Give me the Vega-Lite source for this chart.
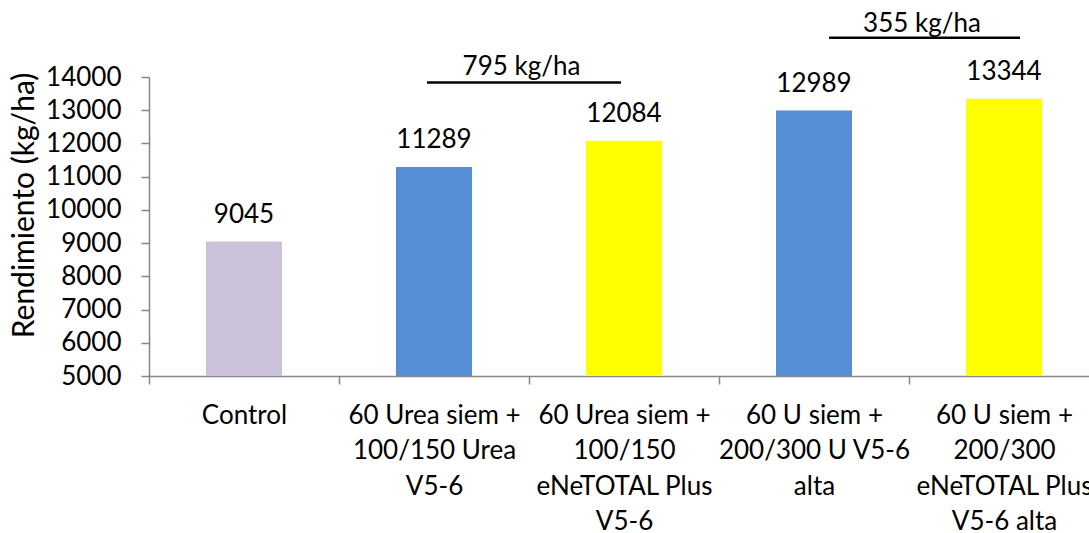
{
  "$schema": "https://vega.github.io/schema/vega-lite/v6.json",
  "width": 940,
  "height": 299,
  "autosize": {"type": "none"},
  "padding": {"left": 149, "top": 77, "right": 0, "bottom": 157},
  "background": "white",
  "config": {
    "view": {"stroke": null},
    "font": "Lato",
    "text": {"font": "Lato", "fontSize": 26, "color": "#000000"},
    "axis": {
      "labelFont": "Lato",
      "labelFontSize": 26,
      "labelColor": "#000000",
      "titleFont": "Lato",
      "titleFontSize": 26,
      "titleFontWeight": "normal",
      "titleColor": "#000000",
      "labelOverlap": false,
      "labelBound": false,
      "labelFlush": false,
      "tickSize": 8,
      "tickColor": "#868686",
      "tickWidth": 1.5,
      "domainColor": "#868686",
      "domainWidth": 1.5,
      "grid": false
    },
    "axisX": {
      "labelAngle": 0,
      "labelLineHeight": 35.5,
      "labelBaseline": "top",
      "labelPadding": 18,
      "labelLimit": 0,
      "tickBand": "extent"
    },
    "axisY": {
      "labelPadding": 20,
      "labelBaseline": "middle",
      "titleFontSize": 30,
      "titleX": -125,
      "titleY": 128,
      "titleAngle": -90,
      "titleAlign": "center",
      "titleBaseline": "middle"
    }
  },
  "datasets": {
    "barras": [
      {"tratamiento": "Control", "tipo": "Control", "rendimiento": 9045, "base": 5000},
      {"tratamiento": "60 Urea siem +\n100/150 Urea\nV5-6", "tipo": "Urea", "rendimiento": 11289, "base": 5000},
      {"tratamiento": "60 Urea siem +\n100/150\neNeTOTAL Plus\nV5-6", "tipo": "eNeTOTAL", "rendimiento": 12084, "base": 5000},
      {"tratamiento": "60 U siem +\n200/300 U V5-6\nalta", "tipo": "Urea", "rendimiento": 12989, "base": 5000},
      {"tratamiento": "60 U siem +\n200/300\neNeTOTAL Plus\nV5-6 alta", "tipo": "eNeTOTAL", "rendimiento": 13344, "base": 5000}
    ],
    "dif1": [
      {"desde": "60 Urea siem +\n100/150 Urea\nV5-6", "hasta": "60 Urea siem +\n100/150\neNeTOTAL Plus\nV5-6", "y": 13834, "etiqueta": "795 kg/ha"}
    ],
    "dif2": [
      {"desde": "60 U siem +\n200/300 U V5-6\nalta", "hasta": "60 U siem +\n200/300\neNeTOTAL Plus\nV5-6 alta", "y": 15184, "etiqueta": "355 kg/ha"}
    ]
  },
  "encoding": {
    "x": {
      "field": "tratamiento", "type": "nominal", "sort": null,
      "scale": {"range": [0, 950], "paddingInner": 0, "paddingOuter": 0},
      "axis": {"title": null, "labelExpr": "split(datum.label, '\\n')"}
    },
    "y": {
      "field": "rendimiento", "type": "quantitative",
      "scale": {"domain": [5000, 14000], "nice": false, "zero": false},
      "axis": {
        "values": [5000, 6000, 7000, 8000, 9000, 10000, 11000, 12000, 13000, 14000],
        "format": "d",
        "title": "Rendimiento (kg/ha)"
      }
    }
  },
  "layer": [
    {
      "data": {"name": "barras"},
      "mark": {"type": "bar", "size": 76},
      "encoding": {
        "y2": {"field": "base"},
        "color": {
          "field": "tipo", "type": "nominal",
          "scale": {"domain": ["Control", "Urea", "eNeTOTAL"], "range": ["#CCC1DA", "#558ED5", "#FFFF00"]},
          "legend": null
        }
      }
    },
    {
      "data": {"name": "barras"},
      "mark": {"type": "text", "baseline": "alphabetic", "align": "center", "dy": -19, "fontSize": 26, "color": "#000000"},
      "encoding": {
        "text": {"field": "rendimiento", "type": "quantitative", "format": "d"}
      }
    },
    {
      "data": {"name": "dif1"},
      "mark": {"type": "rule", "color": "#000000", "strokeWidth": 2.5, "xOffset": -7, "x2Offset": -3},
      "encoding": {
        "x": {"field": "desde", "type": "nominal", "sort": null},
        "x2": {"field": "hasta"},
        "y": {"field": "y", "type": "quantitative"}
      }
    },
    {
      "data": {"name": "dif1"},
      "mark": {"type": "text", "baseline": "alphabetic", "align": "center", "dy": -7.5, "xOffset": 87.5, "fontSize": 26, "color": "#000000"},
      "encoding": {
        "x": {"field": "desde", "type": "nominal", "sort": null},
        "y": {"field": "y", "type": "quantitative"},
        "text": {"field": "etiqueta", "type": "nominal"}
      }
    },
    {
      "data": {"name": "dif2"},
      "mark": {"type": "rule", "color": "#000000", "strokeWidth": 2.5, "xOffset": 15, "x2Offset": 16},
      "encoding": {
        "x": {"field": "desde", "type": "nominal", "sort": null},
        "x2": {"field": "hasta"},
        "y": {"field": "y", "type": "quantitative"}
      }
    },
    {
      "data": {"name": "dif2"},
      "mark": {"type": "text", "baseline": "alphabetic", "align": "center", "dy": -6, "xOffset": 108, "fontSize": 26, "color": "#000000"},
      "encoding": {
        "x": {"field": "desde", "type": "nominal", "sort": null},
        "y": {"field": "y", "type": "quantitative"},
        "text": {"field": "etiqueta", "type": "nominal"}
      }
    }
  ]
}
